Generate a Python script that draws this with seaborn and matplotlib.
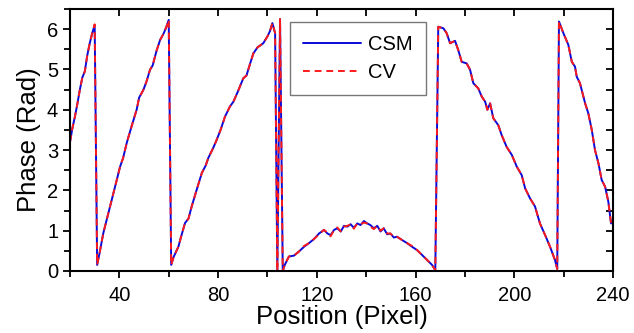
import numpy as np
import pandas as pd
import seaborn as sns
import matplotlib
matplotlib.use("Agg")
import matplotlib.pyplot as plt
from matplotlib.ticker import MultipleLocator

# positions (pixel) and wrapped phase (rad)
position = [20, 21, 22, 23, 24, 25, 26, 27, 28, 29, 30, 31,
            32, 33.5, 35, 36.9, 38.5, 40.3, 41.5, 43, 45, 47, 48, 49.7, 51, 52.4,
            53.5, 55, 56.5, 58, 59, 60, 61,
            62, 63.9, 65, 66.6, 68, 69.3, 71, 73.4, 75, 76, 78, 79.4, 81, 82.8,
            84.8, 86.2, 88, 90.2, 91.5, 93, 94.3, 96, 98.3, 100, 101, 102, 103.1,
            104, 105.1, 106.2,
            107, 108.7, 110.7, 112.7, 114.8, 116.8, 118.8, 120.9, 122.9, 124.3,
            125.6, 127, 128.3, 129.7, 131, 132.4, 133.7, 135, 136.4, 137.7, 139.1,
            140.4, 141.7, 143.1, 144.5, 145.8, 147.1, 148.5, 149.8, 151.2, 152.5,
            154.5, 156.6, 158.6, 160.6, 162.6, 164.7, 166.7, 168,
            169.2, 171.3, 172.6, 174, 176, 177.3, 178.7, 180.7, 182.1, 183.4,
            185.4, 186.8, 188.2, 189.1, 190.2, 191.5, 193.5, 194.9, 196.9, 199,
            201, 203, 204.4, 206.4, 208.4, 210.4, 212.5, 214.5, 216.5, 217.4,
            218.1, 219.9, 221.9, 223.3, 224.6, 225.3, 226.6, 228.7, 230, 231.4,
            232.7, 234.1, 235.4, 236.8, 238.1, 239.2, 240]

csm_phase = [3.2, 3.55, 3.83, 4.15, 4.5, 4.8, 4.95, 5.35, 5.65, 5.9, 6.1, 0.15,
             0.45, 0.94, 1.3, 1.76, 2.15, 2.59, 2.8, 3.18, 3.6, 4.0, 4.3, 4.49, 4.7, 4.99,
             5.1, 5.45, 5.73, 5.9, 6.05, 6.23, 0.15,
             0.35, 0.6, 0.85, 1.19, 1.3, 1.6, 1.95, 2.43, 2.62, 2.8, 3.05, 3.25, 3.5, 3.83,
             4.08, 4.2, 4.45, 4.78, 4.85, 5.15, 5.4, 5.55, 5.65, 5.82, 5.95, 6.15, 5.9,
             0.0, 6.25, 0.0,
             0.15, 0.36, 0.38, 0.48, 0.60, 0.69, 0.79, 0.93, 1.02, 0.93,
             0.89, 1.02, 1.06, 0.98, 1.12, 1.10, 1.16, 1.07, 1.18, 1.14, 1.24,
             1.18, 1.14, 1.06, 1.12, 0.98, 1.06, 0.91, 0.93, 0.83, 0.85,
             0.77, 0.69, 0.60, 0.52, 0.40, 0.27, 0.15, 0.02,
             6.06, 6.02, 5.90, 5.65, 5.71, 5.48, 5.19, 5.15, 4.99, 4.66,
             4.53, 4.33, 4.20, 4.0, 4.16, 3.79, 3.62, 3.37, 3.08, 2.88,
             2.59, 2.38, 2.05, 1.80, 1.60, 1.18, 0.89, 0.60, 0.27, 0.05,
             6.19, 5.90, 5.61, 5.19, 5.07, 4.82, 4.66, 4.16, 3.91, 3.50,
             3.0, 2.67, 2.26, 2.09, 1.72, 1.18, 1.27]

cv_phase = [3.2, 3.55, 3.83, 4.15, 4.5, 4.8, 4.95, 5.35, 5.65, 5.9, 6.12, 0.15,
            0.45, 0.94, 1.3, 1.76, 2.15, 2.59, 2.8, 3.18, 3.6, 4.0, 4.3, 4.49, 4.7, 4.99,
            5.1, 5.45, 5.73, 5.9, 6.05, 6.23, 0.15,
            0.35, 0.6, 0.85, 1.19, 1.3, 1.6, 1.95, 2.43, 2.62, 2.8, 3.05, 3.25, 3.5, 3.83,
            4.08, 4.2, 4.45, 4.78, 4.85, 5.15, 5.4, 5.55, 5.65, 5.82, 5.95, 6.15, 5.9,
            0.0, 6.25, 0.0,
            0.15, 0.36, 0.38, 0.48, 0.62, 0.69, 0.79, 0.91, 1.02, 0.95,
            0.86, 1.02, 1.08, 0.98, 1.10, 1.12, 1.16, 1.05, 1.18, 1.16, 1.20,
            1.18, 1.10, 1.04, 1.12, 1.00, 1.06, 0.93, 0.93, 0.85, 0.85,
            0.77, 0.69, 0.62, 0.52, 0.40, 0.27, 0.15, 0.02,
            6.06, 6.02, 5.90, 5.65, 5.71, 5.48, 5.19, 5.15, 4.99, 4.66,
            4.53, 4.33, 4.20, 4.0, 4.16, 3.79, 3.62, 3.37, 3.08, 2.88,
            2.59, 2.38, 2.05, 1.80, 1.60, 1.18, 0.89, 0.60, 0.27, 0.05,
            6.19, 5.90, 5.61, 5.19, 5.07, 4.82, 4.66, 4.16, 3.91, 3.50,
            3.0, 2.67, 2.26, 2.09, 1.72, 1.18, 1.27]

df = pd.DataFrame({"Position": position, "CSM": csm_phase, "CV": cv_phase})

sns.set_style("ticks")
plt.rcParams["font.family"] = ["Liberation Sans", "DejaVu Sans"]
plt.rcParams.update({"text.color": "black", "axes.labelcolor": "black",
                     "xtick.color": "black", "ytick.color": "black",
                     "axes.edgecolor": "black"})

fig = plt.figure(figsize=(6.34, 3.33), dpi=100)
ax = fig.add_axes([0.1104, 0.1862, 0.8565, 0.7868])

sns.lineplot(data=df, x="Position", y="CSM", ax=ax, color="#0a0ad8",
             lw=1.4, label="CSM", estimator=None)
sns.lineplot(data=df, x="Position", y="CV", ax=ax, color="#ff1a1a",
             lw=1.4, ls=(0, (3.5, 2.5)), label="CV", estimator=None)

ax.set_xlim(20, 240)
ax.set_ylim(0, 6.5)
ax.xaxis.set_major_locator(MultipleLocator(40))
ax.xaxis.set_minor_locator(MultipleLocator(20))
ax.yaxis.set_major_locator(MultipleLocator(1))
ax.yaxis.set_minor_locator(MultipleLocator(0.5))
ax.tick_params(which="both", direction="out", width=1.3, labelsize=14.5,
               top=False, right=False)
ax.tick_params(axis="x", pad=6)
ax.tick_params(which="major", length=5)
ax.tick_params(which="minor", length=4)

# mirrored inward ticks on top and right
top = ax.secondary_xaxis("top")
top.xaxis.set_major_locator(MultipleLocator(20))
right = ax.secondary_yaxis("right")
right.yaxis.set_major_locator(MultipleLocator(0.5))
for sec in (top, right):
    sec.tick_params(direction="in", length=5, width=1.3, labelsize=0)
    for lab in sec.xaxis.get_ticklabels() + sec.yaxis.get_ticklabels():
        lab.set_visible(False)
    for sp in sec.spines.values():
        sp.set_visible(False)

for sp in ax.spines.values():
    sp.set_visible(True)
    sp.set_linewidth(1.5)
    sp.set_color("black")

ax.set_xlabel("Position (Pixel)", fontsize=18.5, labelpad=0)
ax.set_ylabel("Phase (Rad)", fontsize=18.5, labelpad=4)

leg = ax.legend(loc="upper left", bbox_to_anchor=(0.405, 0.95), borderaxespad=0,
                fontsize=14.5, frameon=True, fancybox=False, handlelength=2.9,
                handletextpad=0.35, borderpad=0.65, labelspacing=0.45)
leg.get_frame().set_edgecolor("#555555")
leg.get_frame().set_linewidth(1.0)

fig.savefig("out.png", dpi=100)
